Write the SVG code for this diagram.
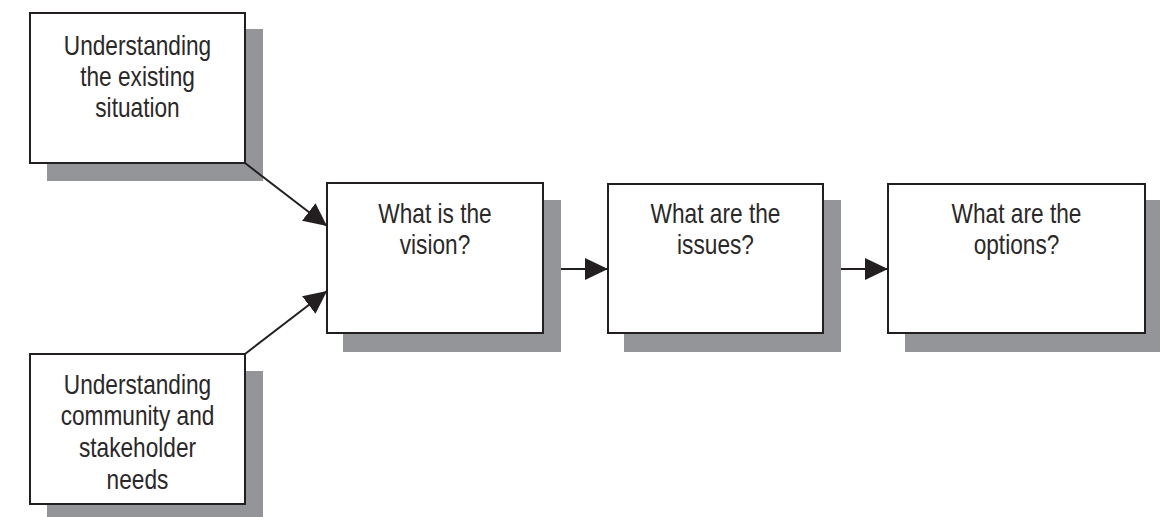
<svg xmlns="http://www.w3.org/2000/svg" width="1160" height="517" viewBox="0 0 1160 517">
<defs>
<style>
.shadow{fill:#939598;}
.box{fill:#fff;stroke:#231f20;stroke-width:2;}
.lbl{font-family:"Liberation Sans",Arial,sans-serif;font-size:27px;fill:#2b2829;text-anchor:middle;}
.conn{stroke:#231f20;stroke-width:2;fill:none;marker-end:url(#ah);}
</style>
<marker id="ah" markerUnits="userSpaceOnUse" markerWidth="24" markerHeight="22" refX="23" refY="11" orient="auto">
<path d="M0,0 L23,11 L0,22 z" fill="#231f20"/>
</marker>
</defs>
<rect width="1160" height="517" fill="#fff"/>
<g id="node-existing">
<rect class="shadow" x="47" y="29" width="216" height="152"/>
<rect class="box" x="30" y="13" width="215" height="150"/>
<g transform="translate(137.5,0) scale(0.84,1)">
<text class="lbl" x="0" y="55">Understanding</text>
<text class="lbl" x="0" y="86">the existing</text>
<text class="lbl" x="0" y="117">situation</text>
</g>
</g>
<g id="node-community">
<rect class="shadow" x="47" y="371" width="216" height="146"/>
<rect class="box" x="30" y="354" width="215" height="150"/>
<g transform="translate(137.5,0) scale(0.84,1)">
<text class="lbl" x="0" y="394">Understanding</text>
<text class="lbl" x="0" y="425">community and</text>
<text class="lbl" x="0" y="457">stakeholder</text>
<text class="lbl" x="0" y="489">needs</text>
</g>
</g>
<g id="node-vision">
<rect class="shadow" x="343" y="200" width="218" height="152"/>
<rect class="box" x="327" y="183" width="216" height="150"/>
<g transform="translate(435,0) scale(0.84,1)">
<text class="lbl" x="0" y="223">What is the</text>
<text class="lbl" x="0" y="254">vision?</text>
</g>
</g>
<g id="node-issues">
<rect class="shadow" x="624" y="200" width="217" height="152"/>
<rect class="box" x="608" y="184" width="215" height="149"/>
<g transform="translate(715.5,0) scale(0.84,1)">
<text class="lbl" x="0" y="223">What are the</text>
<text class="lbl" x="0" y="254">issues?</text>
</g>
</g>
<g id="node-options">
<rect class="shadow" x="905" y="200" width="257" height="152"/>
<rect class="box" x="888" y="184" width="257" height="149"/>
<g transform="translate(1016.5,0) scale(0.84,1)">
<text class="lbl" x="0" y="223">What are the</text>
<text class="lbl" x="0" y="254">options?</text>
</g>
</g>
<g id="connectors">
<line class="conn" x1="245" y1="163" x2="327" y2="226"/>
<line class="conn" x1="245" y1="354" x2="327" y2="291"/>
<line class="conn" x1="561" y1="269" x2="608" y2="269"/>
<line class="conn" x1="841" y1="269" x2="888" y2="269"/>
</g>
</svg>
